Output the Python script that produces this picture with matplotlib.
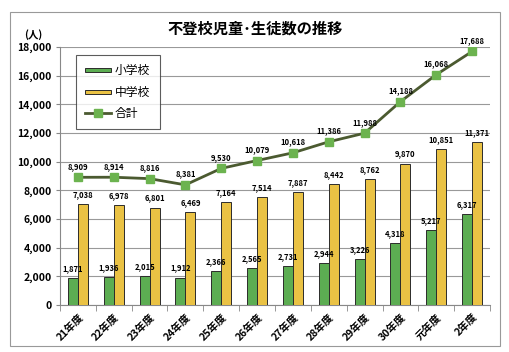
import matplotlib
matplotlib.use("Agg")
import matplotlib.pyplot as plt
from matplotlib.patches import Rectangle
from matplotlib.legend_handler import HandlerPatch
import numpy as np

plt.rcParams['font.family'] = ['Noto Sans CJK JP', 'DejaVu Sans']

categories = ["21年度", "22年度", "23年度", "24年度", "25年度", "26年度",
              "27年度", "28年度", "29年度", "30年度", "元年度", "2年度"]
elementary = [1871, 1936, 2015, 1912, 2366, 2565, 2731, 2944, 3226, 4318, 5217, 6317]
junior = [7038, 6978, 6801, 6469, 7164, 7514, 7887, 8442, 8762, 9870, 10851, 11371]
total = [8909, 8914, 8816, 8381, 9530, 10079, 10618, 11386, 11988, 14188, 16068, 17688]
yticks = [0, 2000, 4000, 6000, 8000, 10000, 12000, 14000, 16000, 18000]

W, H = 510, 352
fig = plt.figure(figsize=(W/100, H/100), dpi=100)
fig.patches.append(Rectangle((10/W, 1-346/H), 490/W, 334/H, transform=fig.transFigure,
                             fill=False, edgecolor='#999999', linewidth=0.8))

ax = fig.add_axes([60/W, 1-305/H, 430/W, 258/H])
x = np.arange(len(categories))
bw = 0.28
green = '#5cad52'
yellow = '#eac244'
b1 = ax.bar(x - bw/2, elementary, bw, color=green, edgecolor='#2b2b2b', linewidth=0.7, label='小学校', zorder=3)
b2 = ax.bar(x + bw/2, junior, bw, color=yellow, edgecolor='#2b2b2b', linewidth=0.7, label='中学校', zorder=3)
l1, = ax.plot(x, total, color='#4b5a30', linewidth=2, marker='s', markersize=6,
              markerfacecolor='#6cb34f', markeredgecolor='#6cb34f', label='合計', zorder=4)

fs = 5.5
for i in range(len(x)):
    ax.text(x[i] - bw/2, elementary[i] + 350, f"{elementary[i]:,}", ha='center', va='bottom',
            fontsize=fs, fontweight='bold', zorder=5)
    ax.text(x[i] + bw/2, junior[i] + 350, f"{junior[i]:,}", ha='center', va='bottom',
            fontsize=fs, fontweight='bold', zorder=5)
    ax.text(x[i], total[i] + 450, f"{total[i]:,}", ha='center', va='bottom',
            fontsize=fs, fontweight='bold', zorder=5)

ax.set_xlim(-0.5, len(x) - 0.5)
ax.set_ylim(0, 18000)
ax.set_yticks(yticks)
ax.set_yticklabels([f"{v:,}" for v in yticks], fontsize=7.5, fontweight='bold')
ax.set_xticks(x)
ax.set_xticklabels(categories, rotation=45, ha='right', rotation_mode='anchor',
                   fontsize=7.5, fontweight='bold')
ax.set_xticks(np.arange(-0.5, len(x), 1), minor=True)
ax.tick_params(axis='x', which='major', length=0, pad=5)
ax.tick_params(axis='x', which='minor', length=4, color='#888888')
ax.tick_params(axis='y', length=3, color='#888888', pad=3)
ax.grid(axis='y', color='#999999', linewidth=0.8, zorder=0)
for s in ['top', 'right']:
    ax.spines[s].set_visible(False)
ax.spines['left'].set_color('#888888')
ax.spines['bottom'].set_color('#888888')


def make_flat(legend, orig_handle, xdescent, ydescent, width, height, fontsize):
    return Rectangle((-xdescent, -ydescent + height*0.25), width, height*0.5)


h1 = b1.patches[0]
h2 = b2.patches[0]
leg = ax.legend([h1, h2, l1], ['小学校', '中学校', '合計'], loc='upper left',
                bbox_to_anchor=(16/430, 1 - 8/258), fontsize=8.5,
                frameon=True, fancybox=False, edgecolor='#333333', handlelength=2.2,
                labelspacing=0.7, borderpad=0.8, handletextpad=0.3, borderaxespad=0,
                handler_map={h1: HandlerPatch(patch_func=make_flat),
                             h2: HandlerPatch(patch_func=make_flat)})
leg.get_frame().set_linewidth(0.8)

fig.text(255/W, 1-29/H, "不登校児童･生徒数の推移", ha='center', va='center',
         fontsize=11, fontweight='bold')
fig.text(33/W, 1-35/H, "(人)", ha='center', va='center', fontsize=7.5, fontweight='bold')

fig.savefig("out.png", dpi=100, facecolor='white')
